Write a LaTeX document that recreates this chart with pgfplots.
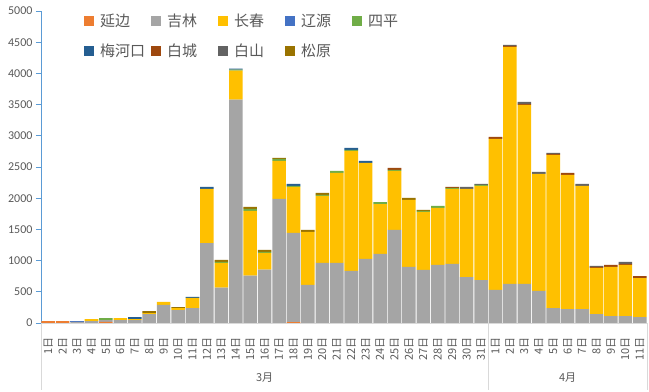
\documentclass[border=0pt]{standalone}
\usepackage{pgfplots}
\usepackage{pgfplotstable}
\pgfplotsset{compat=1.18}
\usepackage{fontspec}
\setmainfont{Carlito}
\newfontfamily\cjk{Noto Sans CJK SC}
\definecolor{cYB}{HTML}{ED7D31}
\definecolor{cJL}{HTML}{A5A5A5}
\definecolor{cCC}{HTML}{FFC000}
\definecolor{cLY}{HTML}{4472C4}
\definecolor{cSP}{HTML}{70AD47}
\definecolor{cMHK}{HTML}{255E91}
\definecolor{cBC}{HTML}{9E480E}
\definecolor{cBS}{HTML}{636363}
\definecolor{cSY}{HTML}{997300}
\definecolor{txt}{HTML}{595959}
\definecolor{yax}{HTML}{5B9BD5}
\definecolor{sep}{HTML}{D9D9D9}

\pgfplotstableread{
x yb jl cc ly sp mhk bc bs sy
1 32 0 0 0 0 0 0 0 0
2 32 0 0 0 0 0 0 0 0
3 0 16 0 16 0 0 0 0 0
4 0 32 32 0 0 0 0 0 0
5 16 32 0 0 32 0 0 0 0
6 0 48 32 0 0 0 0 0 0
7 0 48 16 0 0 32 0 0 0
8 0 144 16 0 0 0 0 0 32
9 0 289 48 0 0 0 0 0 0
10 0 208 32 0 0 0 0 0 16
11 0 240 161 0 0 16 0 0 0
12 0 1282 866 0 0 32 0 0 0
13 0 566 396 0 16 0 0 0 32
14 0 3580 465 0 16 16 0 0 0
15 0 759 1036 0 32 0 0 0 32
16 0 855 267 0 16 0 0 0 32
17 0 1988 609 0 32 0 0 0 16
18 15 1428 737 0 16 32 0 0 0
19 0 609 850 0 0 0 0 0 32
20 0 962 1074 0 16 0 0 0 32
21 0 962 1442 0 32 0 0 0 0
22 0 834 1923 0 16 32 0 0 0
23 0 1026 1539 0 0 32 0 0 0
24 0 1106 801 0 32 0 0 0 0
25 0 1491 945 0 16 0 32 0 0
26 0 898 1074 0 0 0 0 0 32
27 0 850 929 0 16 0 0 0 16
28 0 930 913 0 32 0 0 0 0
29 0 946 1202 0 16 0 16 0 0
30 0 737 1411 0 0 0 0 32 0
31 0 689 1507 0 16 0 0 16 0
32 0 529 2420 0 0 0 32 0 0
33 0 625 3799 0 0 0 16 16 0
34 0 625 2869 0 0 0 16 32 0
35 0 513 1875 0 0 0 0 32 0
36 0 240 2453 0 0 0 16 16 0
37 0 224 2148 0 0 0 32 0 0
38 0 224 1972 0 0 0 0 32 0
39 0 144 738 0 0 0 16 16 0
40 0 112 786 0 0 0 32 0 0
41 0 112 818 0 0 0 16 32 0
42 0 96 625 0 0 0 32 0 0
}\data

\begin{document}
\begin{tikzpicture}
\begin{axis}[
  name=ax,
  scale only axis,
  width=606pt, height=312pt,
  ybar stacked, bar width=0.94,
  clip=false,
  xmin=0.5, xmax=42.5, ymin=0, ymax=5000,
  axis lines=left,
  axis line style={-},
  x axis line style={draw=sep, line width=0.8pt},
  y axis line style={draw=yax, line width=0.8pt},
  xtick={1,...,42},
  xticklabels={1日,2日,3日,4日,5日,6日,7日,8日,9日,10日,11日,12日,13日,14日,15日,16日,17日,18日,19日,20日,21日,22日,23日,24日,25日,26日,27日,28日,29日,30日,31日,1日,2日,3日,4日,5日,6日,7日,8日,9日,10日,11日},
  xtick style={draw=none},
  xticklabel style={rotate=90, anchor=east, inner xsep=9pt, inner ysep=0pt, font=\cjk\fontsize{11}{11}\selectfont, text=txt},
  ytick={0,500,...,5000},
  scaled y ticks=false,
  /pgf/number format/assume math mode=true,
  /pgf/number format/1000 sep={},
  yticklabel style={font=\fontsize{12}{12}\selectfont, text=txt},
  ytick style={draw=yax, line width=0.8pt},
  tick align=outside,
  major tick length=5pt,
  legend columns=5,
  legend cell align=left,
  legend image code/.code={\fill[#1] (0pt,-5pt) rectangle (10pt,5pt);},
  legend style={at={(rel axis cs:0.071,0.99)}, anchor=north west, draw=none, fill=none,
    font=\cjk\fontsize{15}{15}\selectfont, text=txt, inner sep=0pt,
    nodes={inner sep=0pt},
    /tikz/every odd column/.append style={column sep=6pt},
    row sep=15pt},
]
\addplot[fill=cYB, draw=none] table[x=x, y=yb] {\data};
\addplot[fill=cJL, draw=none] table[x=x, y=jl] {\data};
\addplot[fill=cCC, draw=none] table[x=x, y=cc] {\data};
\addplot[fill=cLY, draw=none] table[x=x, y=ly] {\data};
\addplot[fill=cSP, draw=none] table[x=x, y=sp] {\data};
\addplot[fill=cMHK, draw=none] table[x=x, y=mhk] {\data};
\addplot[fill=cBC, draw=none] table[x=x, y=bc] {\data};
\addplot[fill=cBS, draw=none] table[x=x, y=bs] {\data};
\addplot[fill=cSY, draw=none] table[x=x, y=sy] {\data};
\legend{\makebox[51pt][l]{延边},\makebox[51pt][l]{吉林},\makebox[51pt][l]{长春},\makebox[51pt][l]{辽源},\makebox[51pt][l]{四平},\makebox[51pt][l]{梅河口},\makebox[51pt][l]{白城},\makebox[51pt][l]{白山},\makebox[51pt][l]{松原}}
\draw[sep, line width=0.8pt] (axis cs:0.5,0) -- ([yshift=-67pt]axis cs:0.5,0);
\draw[sep, line width=0.8pt] (axis cs:31.5,0) -- ([yshift=-67pt]axis cs:31.5,0);
\draw[sep, line width=0.8pt] (axis cs:42.5,0) -- ([yshift=-67pt]axis cs:42.5,0);
\node[font=\cjk\fontsize{11}{11}\selectfont, text=txt] at ([yshift=-55pt]axis cs:16,0) {3月};
\node[font=\cjk\fontsize{11}{11}\selectfont, text=txt] at ([yshift=-55pt]axis cs:37,0) {4月};
\end{axis}
\pgfresetboundingbox
\path ([xshift=-41pt,yshift=-69pt]ax.south west) rectangle ([xshift=2pt,yshift=11pt]ax.north east);
\end{tikzpicture}
\end{document}
